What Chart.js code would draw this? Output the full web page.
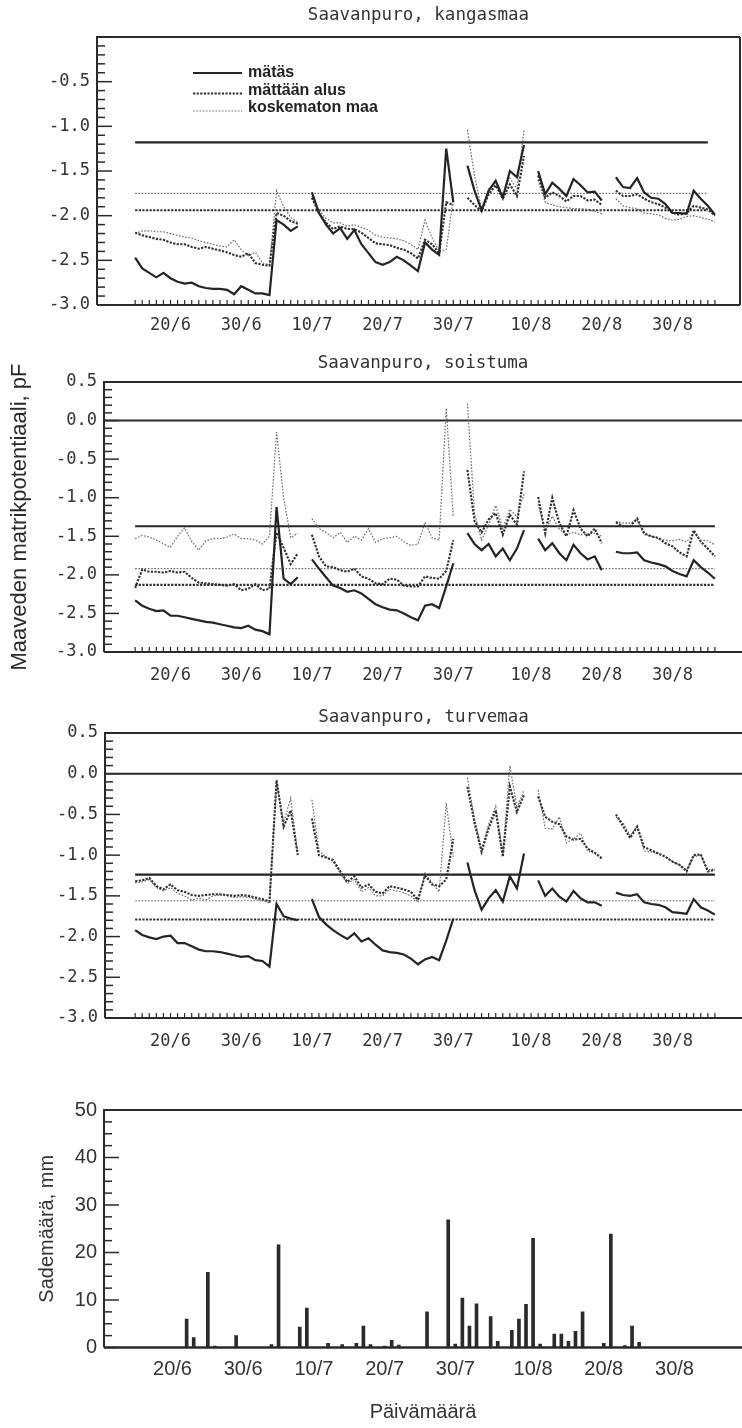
<!DOCTYPE html>
<html><head><meta charset="utf-8">
<script src="https://cdn.jsdelivr.net/npm/chart.js@4.4.1/dist/chart.umd.min.js"></script>
<style>
html,body{margin:0;padding:0;background:#fff;}
body{width:742px;height:1428px;position:relative;overflow:hidden;}
canvas{position:absolute;left:0;}
</style></head><body>
<canvas id="c1" width="742" height="345" style="top:0px"></canvas>
<canvas id="c2" width="742" height="355" style="top:345px"></canvas>
<canvas id="c3" width="742" height="360" style="top:700px"></canvas>
<canvas id="c4" width="742" height="368" style="top:1060px"></canvas>
<script>
// ---------- DATA ----------
// day number: 20 = 20/6, 30 = 30/6, 40 = 10/7, 61 = 31/7, 71 = 10/8, 91 = 30/8
const days = [15,16,17,18,19,20,21,22,23,24,25,26,27,28,29,30,31,32,33,34,35,36,37,38,39,40,41,42,43,44,45,46,47,48,49,50,51,52,53,54,55,56,57,58,59,60,61,62,63,64,65,66,67,68,69,70,71,72,73,74,75,76,77,78,79,80,81,82,83,84,85,86,87,88,89,90,91,92,93,94,95,96,97];
const tickDays = [20,30,40,50,60,71,81,91];
const tickLabels = ['20/6','30/6','10/7','20/7','30/7','10/8','20/8','30/8'];
const seriesNames = ['mätäs','mättään alus','koskematon maa'];

const kangasMatas = [-2.47,-2.59,-2.64,-2.69,-2.64,-2.70,-2.74,-2.76,-2.75,-2.79,-2.81,-2.82,-2.82,-2.83,-2.88,-2.79,-2.83,-2.87,-2.87,-2.89,-2.05,-2.10,-2.17,-2.12,
 null,-1.74,-1.97,-2.10,-2.20,-2.14,-2.26,-2.16,-2.32,-2.42,-2.52,-2.55,-2.52,-2.46,-2.50,-2.56,-2.62,-2.30,-2.38,-2.44,-1.25,-1.85,
 null,-1.44,-1.72,-1.94,-1.72,-1.61,-1.80,-1.50,-1.57,-1.21,
 null,-1.50,-1.76,-1.63,-1.70,-1.78,-1.59,-1.66,-1.74,-1.73,-1.83,
 null,-1.57,-1.68,-1.69,-1.58,-1.74,-1.80,-1.81,-1.87,-1.97,-1.97,-1.98,-1.72,-1.81,-1.89,-1.99];
const kangasAlus = [-2.19,-2.22,-2.24,-2.26,-2.27,-2.30,-2.32,-2.32,-2.35,-2.37,-2.35,-2.37,-2.39,-2.41,-2.44,-2.46,-2.42,-2.53,-2.55,-2.56,-1.97,-2.00,-2.06,-2.09,
 null,-1.80,-1.97,-2.08,-2.15,-2.12,-2.15,-2.15,-2.19,-2.25,-2.31,-2.32,-2.33,-2.36,-2.38,-2.42,-2.48,-2.27,-2.32,-2.42,-1.85,-1.88,
 null,-1.80,-1.88,-1.95,-1.76,-1.66,-1.81,-1.65,-1.78,-1.33,
 null,-1.55,-1.80,-1.74,-1.78,-1.84,-1.78,-1.78,-1.83,-1.82,-1.88,
 null,-1.72,-1.78,-1.78,-1.76,-1.81,-1.85,-1.87,-1.91,-1.97,-1.99,-1.97,-1.89,-1.91,-1.93,-2.00];
const kangasKosk = [-2.20,-2.17,-2.17,-2.18,-2.18,-2.20,-2.22,-2.24,-2.25,-2.28,-2.30,-2.32,-2.34,-2.35,-2.27,-2.38,-2.45,-2.41,-2.53,-2.55,-1.72,-1.90,-2.02,-2.08,
 null,-1.78,-1.94,-2.03,-2.08,-2.08,-2.12,-2.10,-2.13,-2.16,-2.22,-2.24,-2.25,-2.26,-2.28,-2.32,-2.38,-2.05,-2.25,-2.40,-2.38,-1.80,
 null,-1.04,-1.55,-1.93,-1.70,-1.62,-1.76,-1.58,-1.70,-1.04,
 null,-1.60,-1.85,-1.88,-1.90,-1.91,-1.92,-1.92,-1.93,-1.95,-1.98,
 null,-1.81,-1.89,-1.91,-1.92,-1.97,-1.98,-1.99,-2.03,-2.05,-2.04,-2.01,-2.00,-2.02,-2.04,-2.07];

const soistMatas = [-2.33,-2.40,-2.44,-2.47,-2.46,-2.53,-2.53,-2.55,-2.57,-2.59,-2.61,-2.62,-2.64,-2.66,-2.68,-2.69,-2.66,-2.71,-2.73,-2.77,-1.12,-2.05,-2.12,-2.03,
 null,-1.80,-1.92,-2.03,-2.14,-2.17,-2.22,-2.20,-2.24,-2.31,-2.38,-2.42,-2.45,-2.46,-2.50,-2.55,-2.59,-2.40,-2.38,-2.43,-2.15,-1.85,
 null,-1.46,-1.60,-1.68,-1.60,-1.76,-1.66,-1.81,-1.66,-1.42,
 null,-1.53,-1.68,-1.59,-1.72,-1.81,-1.61,-1.72,-1.80,-1.76,-1.94,
 null,-1.70,-1.72,-1.72,-1.71,-1.81,-1.84,-1.86,-1.89,-1.95,-1.99,-2.02,-1.81,-1.90,-1.97,-2.05];
const soistAlus = [-2.17,-1.93,-1.96,-1.96,-1.97,-1.95,-1.97,-1.96,-2.04,-2.10,-2.11,-2.12,-2.13,-2.14,-2.12,-2.20,-2.18,-2.12,-2.20,-2.18,-1.45,-1.65,-1.86,-1.72,
 null,-1.48,-1.76,-1.89,-1.90,-1.94,-1.96,-1.92,-2.02,-2.05,-2.11,-2.12,-2.05,-2.06,-2.14,-2.15,-2.15,-2.02,-2.04,-2.05,-1.95,-1.55,
 null,-0.64,-1.30,-1.45,-1.28,-1.20,-1.48,-1.22,-1.35,-0.66,
 null,-0.99,-1.46,-1.00,-1.33,-1.50,-1.16,-1.40,-1.50,-1.40,-1.59,
 null,-1.32,-1.37,-1.37,-1.27,-1.46,-1.50,-1.52,-1.59,-1.63,-1.71,-1.76,-1.42,-1.57,-1.66,-1.76];
const soistKosk = [-1.53,-1.49,-1.51,-1.55,-1.60,-1.64,-1.50,-1.39,-1.57,-1.68,-1.56,-1.53,-1.53,-1.51,-1.47,-1.53,-1.53,-1.55,-1.60,-1.50,-0.15,-1.00,-1.52,-1.46,
 null,-1.27,-1.40,-1.45,-1.52,-1.45,-1.58,-1.50,-1.55,-1.40,-1.58,-1.53,-1.52,-1.50,-1.57,-1.62,-1.60,-1.32,-1.52,-1.55,0.16,-1.25,
 null,0.22,-1.20,-1.55,-1.35,-1.10,-1.40,-1.15,-1.25,-0.95,
 null,-1.08,-1.43,-1.24,-1.41,-1.48,-1.45,-1.48,-1.47,-1.46,-1.50,
 null,-1.31,-1.33,-1.33,-1.29,-1.48,-1.50,-1.53,-1.55,-1.56,-1.54,-1.57,-1.46,-1.55,-1.56,-1.61];

const turveMatas = [-1.92,-1.98,-2.01,-2.03,-2.00,-1.99,-2.08,-2.08,-2.12,-2.16,-2.18,-2.18,-2.19,-2.21,-2.23,-2.25,-2.24,-2.29,-2.30,-2.37,-1.60,-1.75,-1.78,-1.80,
 null,-1.54,-1.76,-1.85,-1.92,-1.98,-2.03,-1.96,-2.06,-2.02,-2.10,-2.17,-2.19,-2.20,-2.22,-2.27,-2.34,-2.28,-2.25,-2.29,-2.05,-1.78,
 null,-1.09,-1.43,-1.67,-1.53,-1.43,-1.57,-1.26,-1.41,-0.98,
 null,-1.31,-1.50,-1.41,-1.51,-1.57,-1.44,-1.53,-1.58,-1.58,-1.62,
 null,-1.46,-1.49,-1.50,-1.48,-1.58,-1.60,-1.61,-1.64,-1.70,-1.71,-1.72,-1.54,-1.64,-1.68,-1.73];
const turveAlus = [-1.32,-1.31,-1.28,-1.38,-1.42,-1.36,-1.43,-1.45,-1.49,-1.50,-1.49,-1.48,-1.48,-1.49,-1.50,-1.49,-1.50,-1.52,-1.54,-1.57,-0.08,-0.65,-0.45,-1.00,
 null,-0.55,-1.00,-1.03,-1.06,-1.20,-1.33,-1.26,-1.40,-1.36,-1.45,-1.47,-1.38,-1.40,-1.42,-1.45,-1.55,-1.25,-1.36,-1.38,-1.30,-0.80,
 null,-0.16,-0.60,-0.96,-0.67,-0.45,-1.02,-0.16,-0.47,-0.26,
 null,-0.28,-0.53,-0.59,-0.62,-0.77,-0.81,-0.80,-0.92,-0.97,-1.04,
 null,-0.50,-0.64,-0.79,-0.65,-0.90,-0.94,-0.98,-1.02,-1.08,-1.12,-1.20,-1.00,-0.99,-1.20,-1.18];
const turveKosk = [-1.34,-1.33,-1.30,-1.40,-1.44,-1.40,-1.47,-1.50,-1.55,-1.53,-1.55,-1.50,-1.49,-1.50,-1.52,-1.51,-1.52,-1.54,-1.56,-1.59,-0.12,-0.60,-0.30,-0.98,
 null,-0.32,-0.95,-1.02,-1.08,-1.22,-1.35,-1.30,-1.45,-1.40,-1.50,-1.50,-1.42,-1.44,-1.46,-1.50,-1.58,-1.22,-1.34,-1.45,-0.36,-1.02,
 null,-0.05,-0.55,-0.93,-0.62,-0.40,-0.98,0.10,-0.42,-0.20,
 null,-0.20,-0.67,-0.68,-0.53,-0.85,-0.80,-0.73,-0.95,-0.98,-1.04,
 null,-0.53,-0.60,-0.76,-0.65,-0.95,-0.96,-0.98,-1.02,-1.08,-1.12,-1.18,-1.02,-1.00,-1.18,-1.17];

// horizontal level lines [mätäs, mättään alus, koskematon maa] and their day span
const kangasLevels = [-1.18,-1.94,-1.75];
const soistLevels  = [-1.37,-2.13,-1.92];
const turveLevels  = [-1.24,-1.79,-1.56];
const kangasLevelDays = [15,96];
const levelDays = [15,97];

const rainDays = [22,23,25,26,29,34,35,38,39,42,44,46,47,48,50,51,52,56,59,60,61,62,63,65,66,68,69,70,71,72,74,75,76,77,78,81,82,84,85,86];
const rainMm   = [6.0,2.1,15.8,0.3,2.5,0.6,21.6,4.3,8.3,0.9,0.6,0.9,4.5,0.6,0.3,1.5,0.5,7.5,26.9,0.7,10.4,4.5,9.2,6.5,1.3,3.6,6.0,9.1,23.0,0.7,2.8,2.8,1.3,3.4,7.5,0.9,23.9,0.4,4.5,1.1];

// ---------- STYLE / LAYOUT ----------
const INK = '#2a2a2a';
const MONO = '"DejaVu Sans Mono", monospace';
const SANS = '"Liberation Sans", Arial, sans-serif';
const PXD = 7.07;            // pixels per day
const X0_LINE = 170.5, X0_BAR = 172.5; // pixel of first tick day
const ST = [
  {borderColor:'#242424', borderWidth:2.2, borderDash:[]},
  {borderColor:'#2e2e2e', borderWidth:2.1, borderDash:[2.2,1.4]},
  {borderColor:'#6a6a6a', borderWidth:1.2, borderDash:[1.6,1.6]}
];

function xRange(L, R, x0){
  return {min: tickDays[0] - (x0 - L)/PXD, max: tickDays[0] + (R - x0)/PXD};
}

const framePlugin = {
  id: 'frame',
  beforeDatasetsDraw(chart, _a, o){
    const {ctx, chartArea:a} = chart;
    const ys = chart.scales.y, xs = chart.scales.x;
    ctx.save();
    ctx.strokeStyle = INK; ctx.setLineDash([]);
    ctx.lineWidth = 2;
    ctx.beginPath();
    ctx.moveTo(a.right, a.top); ctx.lineTo(a.left, a.top); ctx.lineTo(a.left, a.bottom);
    ctx.stroke();
    ctx.lineWidth = o.bottomWidth || 2;
    ctx.beginPath(); ctx.moveTo(a.left, a.bottom); ctx.lineTo(a.right, a.bottom); ctx.stroke();
    ctx.lineWidth = 2;
    if (o.rightEdge){ ctx.beginPath(); ctx.moveTo(a.right, a.top); ctx.lineTo(a.right, a.bottom); ctx.stroke(); }
    if (o.zeroLine){
      const py = ys.getPixelForValue(0);
      ctx.beginPath(); ctx.moveTo(a.left, py); ctx.lineTo(a.right, py); ctx.stroke();
    }
    ctx.lineWidth = 1.5;
    const n = Math.round((ys.max - ys.min)/o.yMinor);
    for (let i=0;i<=n;i++){
      const v = ys.min + i*o.yMinor;
      const major = Math.abs(v/o.yMajor - Math.round(v/o.yMajor)) < 1e-6;
      const py = ys.getPixelForValue(v);
      ctx.beginPath(); ctx.moveTo(a.left, py); ctx.lineTo(a.left + (major?15:8), py); ctx.stroke();
    }
    if (o.xTicks){
      ctx.lineWidth = 1.2;
      for (let d = o.xTicks[0]; d <= o.xTicks[1]; d++){
        const px = xs.getPixelForValue(d);
        ctx.beginPath(); ctx.moveTo(px, a.bottom); ctx.lineTo(px, a.bottom - 5); ctx.stroke();
      }
    }
    ctx.restore();
  },
  afterDatasetsDraw(chart, _a, o){
    if (!o.legend) return;
    const {ctx, chartArea:a} = chart;
    ctx.save();
    ctx.font = 'bold 16px ' + SANS;
    ctx.fillStyle = '#222';
    ctx.textBaseline = 'middle';
    for (let i=0;i<3;i++){
      const ds = chart.data.datasets[i];
      const y = a.top + 36 + 17.5*i;
      const ly = y + (i ? 3 : 0);
      ctx.strokeStyle = ds.borderColor; ctx.lineWidth = ds.borderWidth;
      ctx.setLineDash(ds.borderDash);
      ctx.beginPath(); ctx.moveTo(a.left + 96, ly); ctx.lineTo(a.left + 145, ly); ctx.stroke();
      ctx.fillText(ds.label, a.left + 151, y);
    }
    ctx.restore();
  }
};

function lineDatasets(vals, levels, lvlDays){
  const out = vals.map((arr, k) => Object.assign({
    label: seriesNames[k],
    data: arr.map((v,i) => ({x: days[i], y: v})),
    pointRadius:0, tension:0, spanGaps:false, fill:false
  }, ST[k]));
  levels.forEach((lv, k) => out.push(Object.assign({
    label: seriesNames[k] + ' (taso)',
    data: [{x:lvlDays[0], y:lv},{x:lvlDays[1], y:lv}],
    pointRadius:0, tension:0, fill:false
  }, ST[k])));
  return out;
}

function makeLineChart(id, o){
  const xr = xRange(o.L, o.R, X0_LINE);
  return new Chart(document.getElementById(id), {
    type:'line',
    data:{datasets: lineDatasets(o.vals, o.levels, o.lvlDays)},
    plugins:[framePlugin],
    options:{
      responsive:false, animation:false, events:[],
      layout:{padding:{top:0,left:0,right:742 - o.R,bottom:0}},
      plugins:{
        legend:{display:false}, tooltip:{enabled:false},
        title:{display:true, text:o.title, fullSize:false, color:'#333',
               font:{family:MONO, size:17.5, weight:'normal'}, padding:{top:o.tTop, bottom:o.tBot}},
        frame:{rightEdge:o.rightEdge, zeroLine:o.zeroLine, yMinor:0.1, yMajor:0.5, xTicks:[days[0], days[days.length-1]], legend:o.legend}
      },
      scales:{
        x:{type:'linear', min:xr.min, max:xr.max,
           afterFit:s => { s.height = o.xH; },
           afterBuildTicks:s => { s.ticks = tickDays.map(v => ({value:v})); },
           grid:{display:false, drawTicks:false}, border:{display:false},
           ticks:{autoSkip:false, maxRotation:0, padding:o.xPad, color:'#333',
                  font:{family:MONO, size:17}, callback:(v,i) => tickLabels[i]}},
        y:{type:'linear', min:o.yMin, max:o.yMax,
           afterFit:s => { s.width = o.L; },
           grid:{display:false, drawTicks:false}, border:{display:false},
           ticks:{stepSize:0.5, padding:7, color:'#333', font:{family:MONO, size:17},
                  callback:v => (o.hideTop && Math.abs(v - o.yMax) < 1e-9) ? '' : Number(v).toFixed(1)},
           title:o.yTitle || {display:false}}
      }
    }
  });
}

makeLineChart('c1', {title:'Saavanpuro, kangasmaa', L:97, R:740, yMin:-3, yMax:0, hideTop:true,
  tTop:4.5, tBot:11.5, xH:40, xPad:10.8, rightEdge:true, zeroLine:false, legend:true,
  vals:[kangasMatas, kangasAlus, kangasKosk], levels:kangasLevels, lvlDays:kangasLevelDays});

makeLineChart('c2', {title:'Saavanpuro, soistuma', L:104, R:742, yMin:-3, yMax:0.5,
  tTop:7.5, tBot:8.5, xH:48, xPad:13.8, rightEdge:false, zeroLine:true, legend:false,
  vals:[soistMatas, soistAlus, soistKosk], levels:soistLevels, lvlDays:levelDays,
  yTitle:{display:true, text:'Maaveden matrikpotentiaali, pF', color:'#2a2a2a',
          font:{family:SANS, size:22}, padding:{top:7, bottom:0}}});

makeLineChart('c3', {title:'Saavanpuro, turvemaa', L:105, R:742, yMin:-3, yMax:0.5,
  tTop:6.5, tBot:5.5, xH:42, xPad:13.8, rightEdge:false, zeroLine:true, legend:false,
  vals:[turveMatas, turveAlus, turveKosk], levels:turveLevels, lvlDays:levelDays});

// rainfall bar chart
(function(){
  const L = 104, R = 742;
  const xr = xRange(L, R, X0_BAR);
  new Chart(document.getElementById('c4'), {
    type:'bar',
    data:{datasets:[{label:'Sademäärä, mm', data: rainDays.map((d,i) => ({x:d, y:rainMm[i]})),
      backgroundColor:'#2a2a2a', borderWidth:0, barThickness:3}]},
    plugins:[framePlugin],
    options:{
      responsive:false, animation:false, events:[],
      layout:{padding:{top:50,left:0,right:0,bottom:0}},
      plugins:{legend:{display:false}, tooltip:{enabled:false},
        frame:{rightEdge:false, zeroLine:false, yMinor:2.5, yMajor:10, bottomWidth:2.6}},
      scales:{
        x:{type:'linear', offset:false, min:xr.min, max:xr.max,
           afterFit:s => { s.height = 80.5; },
           afterBuildTicks:s => { s.ticks = tickDays.map(v => ({value:v})); },
           grid:{display:false, drawTicks:false, offset:false}, border:{display:false},
           ticks:{autoSkip:false, maxRotation:0, padding:9.5, color:'#333',
                  font:{family:SANS, size:20}, callback:(v,i) => tickLabels[i]},
           title:{display:true, text:'Päivämäärä', color:'#333', font:{family:SANS, size:20}, padding:{top:0, bottom:4}}},
        y:{type:'linear', min:0, max:50,
           afterFit:s => { s.width = L; },
           grid:{display:false, drawTicks:false}, border:{display:false},
           ticks:{stepSize:10, padding:7, color:'#333', font:{family:SANS, size:20}},
           title:{display:true, text:'Sademäärä, mm', color:'#333', font:{family:SANS, size:20}, padding:{top:35, bottom:0}}}
      }
    }
  });
})();
</script>
</body></html>
